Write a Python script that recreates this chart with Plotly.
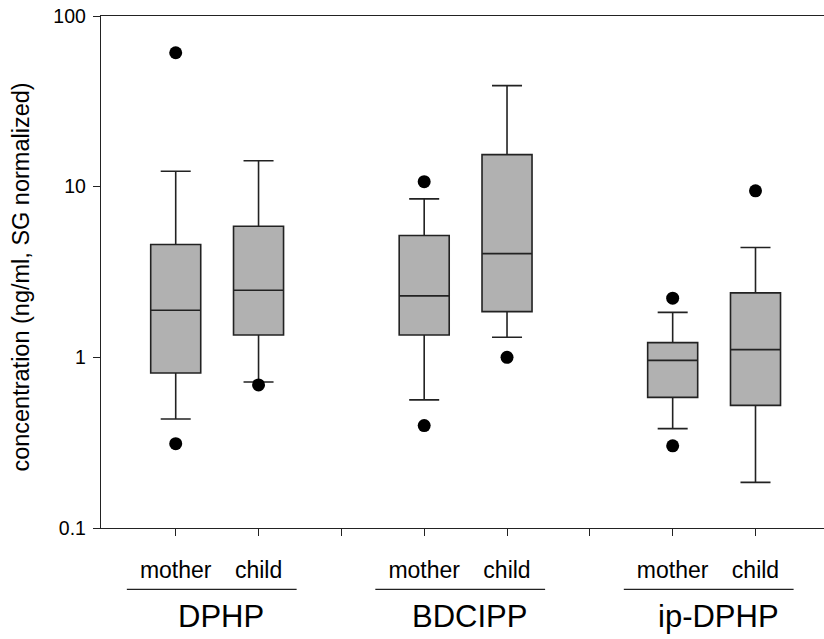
import plotly.graph_objects as go

# Positions on the categorical axis (2 and 5 are spacer slots between compounds)
positions = [0, 1, 3, 4, 6, 7]
tick_positions = [0, 1, 2, 3, 4, 5, 6, 7]
tick_labels = ["mother", "child", "", "mother", "child", "", "mother", "child"]

compounds = ["DPHP", "BDCIPP", "ip-DPHP"]
group_starts = [0, 3, 6]

# Box statistics (ng/ml, SG normalized): mother/child per compound
lower_whisker = [0.435, 0.717, 0.563, 1.31, 0.382, 0.185]
q1 = [0.810, 1.353, 1.353, 1.853, 0.583, 0.523]
median = [1.886, 2.47, 2.29, 4.05, 0.960, 1.109]
q3 = [4.58, 5.86, 5.17, 15.4, 1.22, 2.385]
upper_whisker = [12.3, 14.2, 8.48, 39.1, 1.835, 4.40]

# Outlying observations
outlier_x = [0, 0, 1, 3, 3, 4, 6, 6, 7]
outlier_y = [60.9, 0.312, 0.689, 10.7, 0.398, 1.0, 2.22, 0.303, 9.45]

FONT = "Liberation Sans, Arial, sans-serif"
LINE = "#222222"

fig = go.Figure()

fig.add_trace(go.Box(
    x=positions,
    q1=q1,
    median=median,
    q3=q3,
    lowerfence=lower_whisker,
    upperfence=upper_whisker,
    boxpoints=False,
    width=0.604,
    whiskerwidth=0.6,
    fillcolor="#b1b1b1",
    line=dict(color=LINE, width=1.6),
    showlegend=False,
    hoverinfo="skip",
))

fig.add_trace(go.Scatter(
    x=outlier_x,
    y=outlier_y,
    mode="markers",
    marker=dict(color="black", size=13, line=dict(width=0)),
    showlegend=False,
    hoverinfo="skip",
))

# Group underline and compound name below each mother/child pair
shapes = []
annotations = []
for name, start in zip(compounds, group_starts):
    shapes.append(dict(
        type="line", xref="x", yref="paper",
        x0=start - 0.59, x1=start + 1.46,
        y0=-0.120, y1=-0.120,
        line=dict(color=LINE, width=1.3),
    ))
    annotations.append(dict(
        text=name, xref="x", yref="paper",
        x=start + 0.55, y=-0.173,
        xanchor="center", yanchor="middle",
        showarrow=False,
        font=dict(family=FONT, size=31, color="black"),
    ))

annotations.append(dict(
    text="concentration (ng/ml, SG normalized)",
    xref="paper", yref="paper",
    x=-0.11, y=0.49,
    xanchor="center", yanchor="middle",
    textangle=-90, showarrow=False,
    font=dict(family=FONT, size=23.5, color="black"),
))

fig.update_layout(
    width=824, height=639,
    margin=dict(l=101, r=0, t=16, b=111),
    paper_bgcolor="white",
    plot_bgcolor="white",
    font=dict(family=FONT, color="black"),
    shapes=shapes,
    annotations=annotations,
)

fig.update_xaxes(
    range=[-0.902, 7.827],
    tickmode="array",
    tickvals=tick_positions,
    ticktext=tick_labels,
    ticks="outside", ticklen=7, tickwidth=1.3, tickcolor=LINE,
    ticklabelstandoff=14,
    tickfont=dict(family=FONT, size=23, color="black"),
    showline=True, linecolor=LINE, linewidth=1.4,
    mirror=True,
    showgrid=False, zeroline=False,
)

fig.update_yaxes(
    type="log",
    range=[-1, 2],
    tickmode="array",
    tickvals=[0.1, 1, 10, 100],
    ticktext=["0.1", "1", "10", "100"],
    ticks="outside", ticklen=7, tickwidth=1.3, tickcolor=LINE,
    ticklabelstandoff=3,
    tickfont=dict(family=FONT, size=19.5, color="black"),
    showline=True, linecolor=LINE, linewidth=1.4,
    showgrid=False, zeroline=False,
)

fig.write_html("out.html")
